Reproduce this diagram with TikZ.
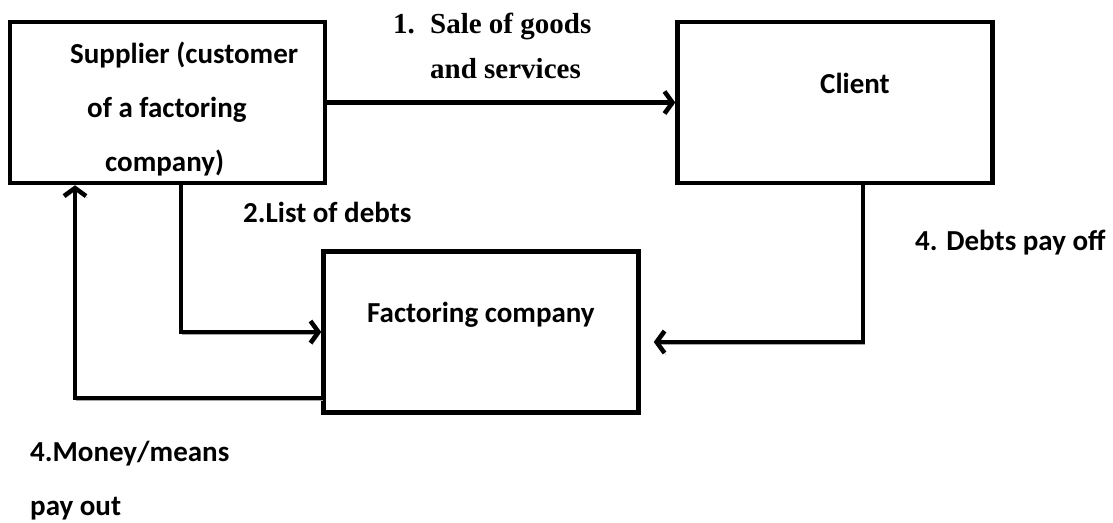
\documentclass[tikz,border=0pt]{standalone}
\usepackage{fontspec}
\setmainfont{Carlito}
\newfontfamily\timesfont{Liberation Serif}
\usetikzlibrary{arrows.meta}
\usetikzlibrary{positioning,calc}
\tikzset{
	every node/.style={font=\bfseries\fontsize{29}{54}\selectfont,inner sep=0pt}
}
\tikzset{
	main node/.style={rectangle,draw,line width=4.5pt,minimum width=315pt,minimum height=161pt},
	flow/.style={line width=4.5pt,-{Straight Barb[length=8pt,width=22pt]},
		preaction={draw=black!35,transform canvas={shift={(1.5pt,-2pt)}}}},
	sale text/.style={font=\timesfont\bfseries\fontsize{29}{45}\selectfont}
}

\begin{document}
\begin{tikzpicture}[x=1pt,y=-1pt]
      \useasboundingbox (0,0) rectangle (1113,522);
      \node[main node] (supplier) at (167.5,102.5) {};
      \node[main node] (client) at (835,102.5) {};
      \node[main node] (factoring) at (481,332) {};
      % text box overflows the supplier box
      \begin{scope}
        \clip (supplier.north west) rectangle ([yshift=6pt]supplier.south east);
        \node[anchor=north west,align=left] (suppliertext) at (70,42) {Supplier (customer\\\hspace*{17pt}of a factoring\\\hspace*{35pt}company)};
      \end{scope}
      \node[anchor=base] (clienttext) at (855,93) {Client};
      \node[anchor=base west] (factoringtext) at (367,322) {Factoring company};
      \node[anchor=north west,align=left,sale text] (sale) at (393,13) {\makebox[37pt][l]{1.}Sale of goods\\\hspace*{37pt}and services};
      \node[anchor=base west] (debtlist) at (243,222) {2.List of debts};
      \node[anchor=base west] (payoff) at (915,250) {4. Debts pay off};
      \node[anchor=north west,align=left] (payout) at (30,441) {4.Money/means\\pay out};
      \draw[flow] (supplier) -- (client);
      \draw[flow] ([xshift=13.5pt]supplier.south) |- (factoring);
      \draw[flow] ([yshift=17pt]factoring.south west) -| ([xshift=-92.5pt]supplier.south);
      \draw[flow,shorten >=13pt] ([xshift=28pt]client.south) |- ([yshift=-10pt]factoring.east);
    \end{tikzpicture}
\end{document}
